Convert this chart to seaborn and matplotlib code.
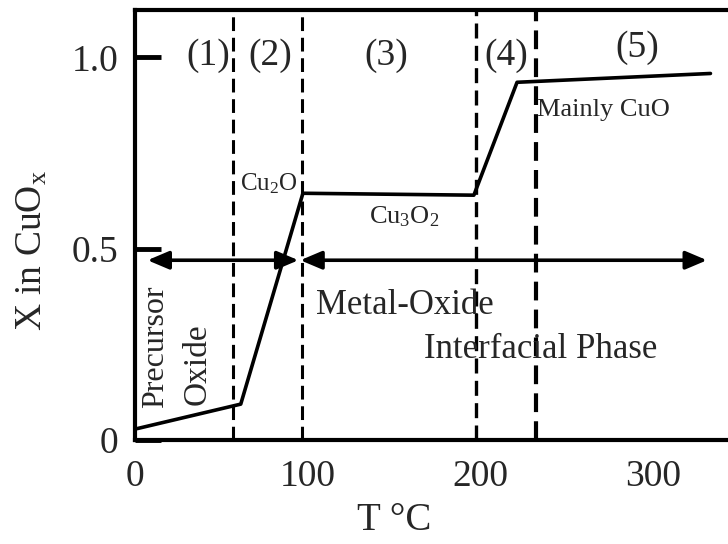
import numpy as np
import pandas as pd
import matplotlib
matplotlib.use('Agg')
import matplotlib.pyplot as plt
import seaborn as sns

# Data
temp = [1, 61, 97, 196, 221, 333]
x_val = [0.03, 0.094, 0.645, 0.64, 0.935, 0.958]

boundaries = [56.7, 96.7, 197.4, 232.2]
boundary_widths = [2.2, 2.2, 2.4, 3.0]

region_labels = ['(1)', '(2)', '(3)', '(4)', '(5)']
region_t = [42.3, 78.2, 145.3, 214.8, 290.7]
region_y = [1.005, 1.005, 1.005, 1.005, 1.026]

arrow_spans = [(7, 94.4), (95.5, 331)]
arrow_level = 0.47

xticks = [0, 100, 200, 300]
yticks = [0, 0.5, 1.0]
yticklabels = ['0', '0.5', '1.0']

df = pd.DataFrame({'T': temp, 'X': x_val})

sns.set_style('white')
plt.rcParams['font.family'] = ['Liberation Serif', 'DejaVu Serif']
plt.rcParams['mathtext.default'] = 'regular'

fig = plt.figure(figsize=(7.28, 5.44), dpi=100)
ax = fig.add_axes([0.186, 0.191, 0.816, 0.790])

sns.lineplot(data=df, x='T', y='X', color='black', lw=2.6, ax=ax)

# Region boundaries
for b, w in zip(boundaries, boundary_widths):
    ax.axvline(b, color='black', lw=w, ls=(0, (4.5, 2.2)))

# Double arrows for the phases
for a, b in arrow_spans:
    ax.annotate('', xy=(b, arrow_level), xytext=(a, arrow_level),
                arrowprops=dict(arrowstyle='<|-|>,head_length=1.3,head_width=0.55',
                                lw=2.6, color='black', shrinkA=0, shrinkB=0))

for lab, t, y in zip(region_labels, region_t, region_y):
    ax.text(t, y, lab, fontsize=27, ha='center', va='center')

ax.text(77, 0.671, r'Cu$_2$O', fontsize=18, ha='center', va='center')
ax.text(155.8, 0.585, r'Cu$_3$O$_2$', fontsize=19, ha='center', va='center')
ax.text(232.8, 0.862, 'Mainly CuO', fontsize=19, ha='left', va='center')
ax.text(104.8, 0.352, 'Metal-Oxide', fontsize=25, ha='left', va='center')
ax.text(167.3, 0.238, 'Interfacial Phase', fontsize=25, ha='left', va='center')
ax.text(11.6, 0.084, 'Precursor', fontsize=23, rotation=90, ha='center', va='bottom')
ax.text(35.9, 0.091, 'Oxide', fontsize=24, rotation=90, ha='center', va='bottom')

ax.set_xlim(0, 344)
ax.set_ylim(0, 1.123)
ax.set_xticks(xticks)
ax.set_yticks(yticks)
ax.set_yticklabels(yticklabels)
ax.tick_params(axis='x', bottom=False, length=0, pad=14, labelsize=27)
ax.tick_params(axis='y', left=True, direction='in', length=19, width=3.5, pad=12,
               labelsize=27, color='black')

ax.set_xlabel('T °C', fontsize=28)
ax.set_ylabel(r'X in CuO$_x$', fontsize=27)
ax.xaxis.set_label_coords(0.436, -0.145)
ax.yaxis.set_label_coords(-0.145, 0.442)

for side in ['left', 'bottom', 'top']:
    ax.spines[side].set_linewidth(3)
    ax.spines[side].set_color('black')
ax.spines['right'].set_visible(False)

fig.savefig('out.png', dpi=100)
